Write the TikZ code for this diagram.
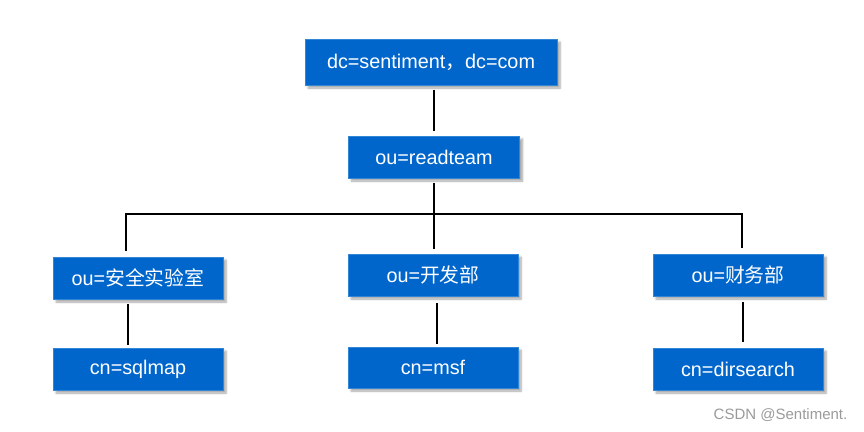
\documentclass[tikz,border=0pt]{standalone}
\usepackage{fontspec}
\setmainfont{Liberation Sans}
\newfontfamily\cjk{Noto Sans CJK SC}
\usetikzlibrary{shadows.blur}
\definecolor{boxblue}{HTML}{0066CC}
\definecolor{wmgray}{HTML}{9A9A9A}
\begin{document}
\begin{tikzpicture}[x=1pt,y=-1pt,
  box/.style={fill=boxblue, draw=boxblue!80!white, line width=0.6pt, text=white,
    minimum width=170pt, minimum height=42pt, inner sep=0pt,
    font=\fontsize{19.8}{23}\selectfont,
    blur shadow={shadow xshift=3pt, shadow yshift=-3pt, shadow blur steps=6, shadow opacity=35}},
  conn/.style={draw=black, line width=2pt}]
\useasboundingbox (0,0) rectangle (864,431);
\node[box, minimum width=252pt, minimum height=46pt] (top) at (431,62) {dc=sentiment{\cjk ，}dc=com};
\node[box, minimum width=171pt] (rt) at (434,157) {ou=readteam};
\node[box] (a) at (138,278) {ou={\cjk 安全实验室}};
\node[box] (b) at (433,275) {ou={\cjk 开发部}};
\node[box] (c) at (738,275) {ou={\cjk 财务部}};
\node[box] (a2) at (138,369) {cn=sqlmap};
\node[box, minimum height=41pt] (b2) at (433,367.5) {cn=msf};
\node[box] (c2) at (738,369) {cn=dirsearch};
\coordinate (busL) at (126,214);
\coordinate (busR) at (742,214);
\coordinate (busM) at (434,214);
\draw[conn] ([yshift=-5pt]top.south -| rt) -- ([yshift=5pt]rt.north);
\draw[conn] ([yshift=-5pt]rt.south) -- (busM);
\draw[conn] ([yshift=6pt]a.north -| busL) -- (busL) -- (busR) -- ([yshift=6pt]c.north -| busR);
\draw[conn] (busM) -- ([yshift=5pt]b.north -| busM);
\draw[conn] ([xshift=-10pt,yshift=-5pt]a.south) -- ([xshift=-10pt,yshift=3pt]a2.north);
\draw[conn] ([xshift=4pt,yshift=-7pt]b.south) -- ([xshift=4pt,yshift=3pt]b2.north);
\draw[conn] ([xshift=5pt,yshift=-6pt]c.south) -- ([xshift=5pt,yshift=6pt]c2.north);
\node[text=wmgray, font=\fontsize{15}{18}\selectfont, inner sep=0pt] (wm) at (780.5,415) {CSDN @Sentiment.};
\end{tikzpicture}
\end{document}
